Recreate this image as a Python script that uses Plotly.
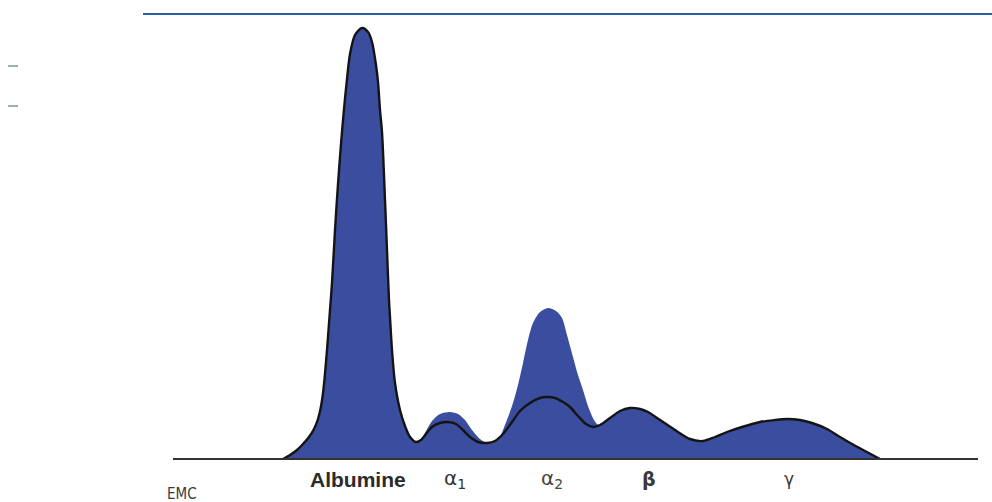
import plotly.graph_objects as go

# Migration position (x) and intensity (y)
normal_x = [283, 290, 297, 303, 309, 314, 318, 320.5, 322.5, 324.5, 327, 330, 332, 335, 338, 341, 344,
            347, 350, 355, 362, 368, 372, 376, 378, 380, 382, 385, 387, 389, 390, 392, 395, 400, 405,
            410, 416, 421, 426, 432, 440, 448, 456, 463, 470, 478, 487, 495, 503, 512, 520, 530,
            540, 547, 555, 563, 570, 578, 586, 593, 600, 610, 620, 630, 640, 648, 660, 675, 690,
            703, 715, 727, 742, 760, 775, 787, 800, 812, 827, 840, 852, 865, 880]
normal_y = [0, 4, 9, 15, 22, 30, 40, 50, 62, 80, 109, 149, 176, 229, 275, 315, 350,
            380, 405, 424, 431, 427, 417, 394, 377, 349, 327, 259, 209, 159, 142, 109, 76, 49, 33,
            22, 17, 19, 25, 32, 36, 37, 35, 29, 22, 17, 16, 18, 25, 37, 48, 56,
            61, 62, 61, 57, 52, 43, 35, 32, 34, 41, 48, 51, 50, 47, 39, 29, 20,
            18, 22, 27, 32, 37, 39, 40, 39, 36, 30, 22, 15, 8, 0]

patient_x = [283, 290, 297, 303, 309, 314, 318, 320.5, 322.5, 324.5, 327, 330, 332, 335, 338, 341, 344,
             347, 350, 355, 362, 368, 372, 376, 378, 380, 382, 385, 387, 389, 390, 392, 395, 400, 405,
             410, 416, 421, 426, 432, 440, 450, 458, 465, 472, 480, 487, 493, 498, 505, 513, 518,
             523, 528, 533, 540, 548, 556, 562, 567, 573, 578, 583, 588, 593, 597, 600, 610, 620,
             630, 640, 648, 660, 675, 690, 703, 715, 727, 742, 760, 775, 787, 800, 812, 827, 840,
             852, 865, 880]
patient_y = [0, 4, 9, 15, 22, 30, 40, 50, 62, 80, 109, 149, 176, 229, 275, 315, 350,
             380, 405, 424, 431, 427, 417, 394, 377, 349, 327, 259, 209, 159, 142, 109, 76, 49, 33,
             22, 17, 19, 28, 38, 45, 47, 45, 39, 29, 20, 16, 17, 19, 34, 56, 74,
             96, 119, 136, 147, 151, 148, 141, 124, 102, 84, 69, 53, 41, 35, 34, 41, 48,
             51, 50, 47, 39, 29, 20, 18, 22, 27, 32, 37, 39, 40, 39, 36, 30, 22,
             15, 8, 0]

fraction_labels = ["<b>Albumine</b>", "α<sub>1</sub>", "α<sub>2</sub>", "<b>β</b>", "γ"]
fraction_pos = [358, 455, 552, 649, 789]
label_fonts = [("Liberation Sans", 21, "#2b2b2b"), ("DejaVu Sans", 20, "#333333"),
               ("DejaVu Sans", 20, "#444444"), ("DejaVu Sans", 19, "#3a3a3a"),
               ("DejaVu Sans", 17, "#3a3a3a")]

fig = go.Figure()
fig.add_trace(go.Scatter(x=patient_x, y=patient_y, mode="lines",
                         line=dict(width=0, shape="spline", smoothing=0.8),
                         fill="tozeroy", fillcolor="#3a4d9f", hoverinfo="skip", showlegend=False))
fig.add_trace(go.Scatter(x=normal_x, y=normal_y, mode="lines",
                         line=dict(color="#141414", width=2.4, shape="spline", smoothing=0.8),
                         hoverinfo="skip", showlegend=False))

# baseline
fig.add_shape(type="line", x0=173, x1=978, y0=0, y1=0, line=dict(color="#333333", width=2))
# top rule
fig.add_shape(type="line", x0=143, x1=992, y0=445, y1=445, line=dict(color="#2f5ca3", width=2))
# small dashes on the left
for yy in [393, 353]:
    fig.add_shape(type="line", x0=8, x1=18, y0=yy, y1=yy, line=dict(color="#7f90a6", width=1.5))

for lab, xp, (fam, sz, col) in zip(fraction_labels, fraction_pos, label_fonts):
    fig.add_annotation(x=xp, y=-20, text=lab, showarrow=False,
                       font=dict(family=fam, size=sz, color=col))
fig.add_annotation(x=182, y=-35, text="EMC", showarrow=False,
                   font=dict(family="DejaVu Sans Condensed, Liberation Sans Narrow, Liberation Sans",
                             size=15, color="#3a3a3a"))

fig.update_layout(width=992, height=502, margin=dict(l=0, r=0, t=0, b=0),
                  paper_bgcolor="white", plot_bgcolor="white",
                  xaxis=dict(range=[0, 992], visible=False, fixedrange=True),
                  yaxis=dict(range=[-43, 459], visible=False, fixedrange=True))
fig.write_html("out.html")
